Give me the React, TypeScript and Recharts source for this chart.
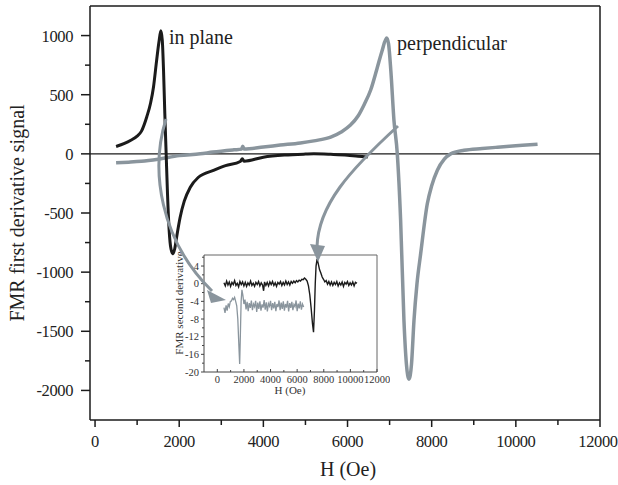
import React from 'react';
import { LineChart, Line, XAxis, YAxis, ReferenceLine } from 'recharts';

const FONT = 'Liberation Serif';
const BLACK = '#1b1b1b';
const GREY = '#8a959d';

// main panel: FMR first derivative vs H (Oe)
const inPlane: [number, number][] = [
  [500, 62], [700, 88], [850, 115], [1000, 150], [1100, 190], [1230, 314], [1320, 430],
  [1390, 568], [1460, 780], [1520, 950], [1564, 1040], [1598, 960], [1628, 700], [1658, 340],
  [1690, 0], [1722, -340], [1760, -640], [1805, -805], [1850, -845], [1895, -800], [1945, -690],
  [2020, -540], [2120, -400], [2260, -285], [2450, -200], [2830, -138], [3100, -100], [3450, -65],
  [3500, -42], [3540, -62], [4000, -28], [4500, -10], [5000, -2], [5200, 0], [5600, -4],
  [6000, -11], [6250, -20], [6480, -26],
];

const perpendicular: [number, number][] = [
  [500, -75], [800, -70], [1100, -63], [1500, -45], [2000, -15], [2500, 0], [2800, 15],
  [3300, 34], [3480, 40], [3510, 64], [3540, 42], [4000, 58], [4400, 74], [4880, 92],
  [5200, 110], [5600, 141], [5850, 185], [6070, 243], [6250, 320], [6400, 420], [6550, 540],
  [6700, 720], [6820, 870], [6930, 980], [6975, 930], [7030, 700], [7103, 286], [7183, 0],
  [7262, -563], [7341, -1409], [7400, -1780], [7460, -1905], [7520, -1780], [7579, -1409],
  [7650, -1100], [7738, -845], [7897, -420], [8000, -270], [8135, -138], [8300, -45], [8452, 0],
  [8770, 30], [9200, 45], [9564, 56], [10000, 68], [10516, 82],
];

// inset: FMR second derivative
const inPlane2nd: [number, number][] = [
  [500, 0.2], [600, -0.5], [700, 0.6], [800, -0.3], [900, 0.4], [1000, -0.6], [1100, 0.3],
  [1200, -0.2], [1300, 0.7], [1400, -0.4], [1500, 0.1], [1600, -0.7], [1700, 0.5], [1800, -0.2],
  [1900, 0.4], [2000, -0.5], [2100, 0.3], [2200, -0.6], [2300, 0.2], [2400, -0.3], [2500, 0.6],
  [2600, -0.4], [2700, 0.1], [2800, -0.6], [2900, 0.3], [3000, -0.2], [3100, 0.5], [3200, -0.5],
  [3300, 0.2], [3400, -0.3], [3480, -1.6], [3550, 0.4], [3650, -0.4], [3750, 0.3], [3850, -0.5],
  [3950, 0.4], [4050, -0.2], [4150, 0.5], [4250, -0.4], [4350, 0.2], [4450, -0.6], [4550, 0.3],
  [4650, -0.1], [4750, 0.5], [4850, -0.4], [4950, 0.3], [5050, -0.3], [5150, 0.6], [5250, -0.2],
  [5350, 0.4], [5450, -0.3], [5550, 0.5], [5650, 0.1], [5750, 0.6], [5850, 0.2], [5950, 0.7],
  [6050, 0.4], [6150, 0.8], [6250, 0.6], [6350, 1.0], [6450, 0.9], [6550, 1.3], [6650, 1.0],
  [6750, 0.6], [6850, -0.5], [6950, -2.5], [7050, -5.5], [7150, -9], [7230, -11], [7300, -6],
  [7360, 0], [7420, 4], [7500, 5.6], [7580, 4.6], [7680, 3.2], [7780, 2.4], [7880, 1.5],
  [7980, 1.0], [8080, 0.4], [8180, 0.7], [8280, -0.1], [8380, 0.5], [8480, -0.3], [8580, 0.4],
  [8680, -0.4], [8780, 0.3], [8880, -0.2], [8980, 0.5], [9080, -0.5], [9180, 0.2], [9280, -0.3],
  [9380, 0.4], [9480, -0.6], [9580, 0.3], [9680, -0.1], [9780, 0.5], [9880, -0.4], [9980, 0.2],
  [10080, -0.3], [10180, 0.4], [10280, -0.5], [10380, 0.3], [10500, 0.1],
];

const perpendicular2nd: [number, number][] = [
  [500, -5.4], [580, -6.6], [660, -4.9], [740, -6.1], [820, -4.5], [900, -5.2], [980, -4.0],
  [1060, -3.9], [1140, -3.3], [1220, -3.6], [1300, -3.1], [1380, -4.0], [1460, -5.0], [1540, -8],
  [1620, -14], [1680, -18.2], [1730, -12], [1790, -4], [1850, -1.4], [1920, -2.6], [2000, -4.6],
  [2080, -3.6], [2160, -5.8], [2240, -4.1], [2320, -6.2], [2400, -4.4], [2480, -5.5], [2560, -3.8],
  [2640, -6.0], [2720, -4.6], [2800, -5.2], [2880, -3.9], [2960, -6.4], [3040, -4.3], [3120, -5.7],
  [3200, -4.0], [3280, -6.1], [3360, -4.7], [3440, -5.4], [3520, -3.7], [3600, -5.9], [3680, -4.2],
  [3760, -6.3], [3840, -4.5], [3920, -5.1], [4000, -3.9], [4080, -6.0], [4160, -4.4], [4240, -5.6],
  [4320, -4.1], [4400, -6.2], [4480, -4.6], [4560, -5.3], [4640, -3.8], [4720, -6.0], [4800, -4.3],
  [4880, -5.7], [4960, -4.0], [5040, -6.1], [5120, -4.6], [5200, -5.4], [5280, -3.9], [5360, -6.3],
  [5440, -4.4], [5520, -5.5], [5600, -4.1], [5680, -6.0], [5760, -4.7], [5840, -5.2], [5920, -3.8],
  [6000, -6.2], [6080, -4.5], [6160, -5.6], [6240, -4.0], [6320, -5.9], [6400, -4.6], [6490, -5.3],
];

const mainXTicks = [0, 1000, 2000, 3000, 4000, 5000, 6000, 7000, 8000, 9000, 10000, 11000, 12000];
const mainYTicks = [-2000, -1750, -1500, -1250, -1000, -750, -500, -250, 0, 250, 500, 750, 1000];
const insetXTicks = [0, 1000, 2000, 3000, 4000, 5000, 6000, 7000, 8000, 9000, 10000, 11000, 12000];
const insetYTicks = [-20, -18, -16, -14, -12, -10, -8, -6, -4, -2, 0, 2, 4, 6];

const toRows = (pts: [number, number][]) => pts.map(([h, v]) => ({ h, v }));

const serif = { fontFamily: FONT };

const MainXTick = ({ x, y, payload }: any) => {
  const major = payload.value % 2000 === 0;
  // last label sits right at the page edge
  const lx = payload.value === 12000 ? x - 2 : x;
  return (
    <g>
      <line x1={x} y1={y} x2={x} y2={y + (major ? 7 : 5)} stroke={BLACK} strokeWidth={1.5} />
      {major && (
        <text x={lx} y={y + 27} textAnchor="middle" fontSize={16.5} letterSpacing={-0.4} style={serif} fill="#222">
          {payload.value}
        </text>
      )}
    </g>
  );
};

const MainYTick = ({ x, y, payload }: any) => {
  const major = payload.value % 500 === 0;
  return (
    <g>
      <line x1={x - (major ? 9 : 5)} y1={y} x2={x} y2={y} stroke={BLACK} strokeWidth={1.5} />
      {major && (
        <text x={x - 17} y={y + 6} textAnchor="end" fontSize={16.5} letterSpacing={-0.4} style={serif} fill="#222">
          {payload.value}
        </text>
      )}
    </g>
  );
};

const InsetXTick = ({ x, y, payload }: any) => {
  const major = payload.value % 2000 === 0;
  return (
    <g>
      <line x1={x} y1={y} x2={x} y2={y - (major ? 3 : 2)} stroke="#444" strokeWidth={1} />
      {major && (
        <text x={x} y={y + 11} textAnchor="middle" fontSize={10.5} style={serif} fill="#333">
          {payload.value}
        </text>
      )}
    </g>
  );
};

const InsetYTick = ({ x, y, payload }: any) => {
  const major = payload.value % 4 === 0;
  return (
    <g>
      <line x1={x - (major ? 3 : 2)} y1={y} x2={x} y2={y} stroke="#444" strokeWidth={1} />
      {major && (
        <text x={x - 5} y={y + 3.5} textAnchor="end" fontSize={10.5} style={serif} fill="#333">
          {payload.value}
        </text>
      )}
    </g>
  );
};

export default function App() {
  return (
    <div style={{ position: 'absolute', left: 0, top: 0, width: 618, height: 485, background: '#fff', fontFamily: FONT }}>
      <LineChart width={618} height={485} margin={{ top: 6, right: 18, bottom: 15, left: 30 }}>
        <XAxis
          type="number"
          dataKey="h"
          domain={[-120, 12000]}
          ticks={mainXTicks}
          interval={0}
          allowDataOverflow
          tick={MainXTick}
          tickSize={0}
          tickMargin={0}
          tickLine={false}
          axisLine={{ stroke: BLACK, strokeWidth: 1.5 }}
          height={50}
        />
        <YAxis
          type="number"
          domain={[-2250, 1250]}
          ticks={mainYTicks}
          interval={0}
          allowDataOverflow
          tick={MainYTick}
          tickSize={0}
          tickMargin={0}
          tickLine={false}
          axisLine={{ stroke: BLACK, strokeWidth: 1.5 }}
          width={60}
        />
        <ReferenceLine y={1250} stroke={BLACK} strokeWidth={1.5} />
        <ReferenceLine x={12000} stroke={BLACK} strokeWidth={1.5} />
        <ReferenceLine y={0} stroke={BLACK} strokeWidth={1.3} />
        <Line data={toRows(perpendicular)} dataKey="v" type="monotone" stroke={GREY} strokeWidth={3.5} dot={false} isAnimationActive={false} />
        <Line data={toRows(inPlane)} dataKey="v" type="monotone" stroke={BLACK} strokeWidth={3} dot={false} isAnimationActive={false} />
      </LineChart>

      <div style={{ position: 'absolute', left: 150, top: 245 }}>
        <LineChart width={240} height={160} margin={{ top: 10, right: 13, bottom: 8, left: 4 }}>
          <XAxis
            type="number"
            dataKey="h"
            domain={[-1000, 12000]}
            ticks={insetXTicks}
            interval={0}
            allowDataOverflow
            tick={InsetXTick}
            tickSize={0}
            tickMargin={0}
            tickLine={false}
            axisLine={{ stroke: '#444', strokeWidth: 1 }}
            height={25}
          />
          <YAxis
            type="number"
            domain={[-20, 6.5]}
            ticks={insetYTicks}
            interval={0}
            allowDataOverflow
            tick={InsetYTick}
            tickSize={0}
            tickMargin={0}
            tickLine={false}
            axisLine={{ stroke: '#444', strokeWidth: 1 }}
            width={50}
          />
          <ReferenceLine y={6.5} stroke="#666" strokeWidth={1} />
          <ReferenceLine x={12000} stroke="#666" strokeWidth={1} />
          <Line data={toRows(perpendicular2nd)} dataKey="v" type="linear" stroke={GREY} strokeWidth={1.3} dot={false} isAnimationActive={false} />
          <Line data={toRows(inPlane2nd)} dataKey="v" type="linear" stroke={BLACK} strokeWidth={1.4} dot={false} isAnimationActive={false} />
        </LineChart>
      </div>

      <svg width={618} height={485} style={{ position: 'absolute', left: 0, top: 0, pointerEvents: 'none' }}>
        <text x={17} y={213} transform="rotate(-90 17 213)" textAnchor="middle" dominantBaseline="central" fontSize={20} style={serif} fill="#222">
          FMR first derivative signal
        </text>
        <text x={348} y={476} textAnchor="middle" fontSize={20} style={serif} fill="#222">
          H (Oe)
        </text>
        <text x={169} y={44} fontSize={20} style={serif} fill="#222">in plane</text>
        <text x={397} y={50} fontSize={20} style={serif} fill="#222">perpendicular</text>

        <text x={179} y={303} transform="rotate(-90 179 303)" textAnchor="middle" dominantBaseline="central" fontSize={11} style={serif} fill="#333">
          FMR second derivative
        </text>
        <text x={290} y={394} textAnchor="middle" fontSize={11} style={serif} fill="#333">
          H (Oe)
        </text>

        {/* arrows from the main curves into the inset */}
        <path d="M166,119 C150,170 160,240 212,291" fill="none" stroke={GREY} strokeWidth={3} />
        <polygon points="226,300 207,290 211,303" fill={GREY} />
        <path d="M398,126 C350,170 318,205 317,247" fill="none" stroke={GREY} strokeWidth={3} />
        <polygon points="318,262 310,244 325,246" fill={GREY} />
      </svg>
    </div>
  );
}
